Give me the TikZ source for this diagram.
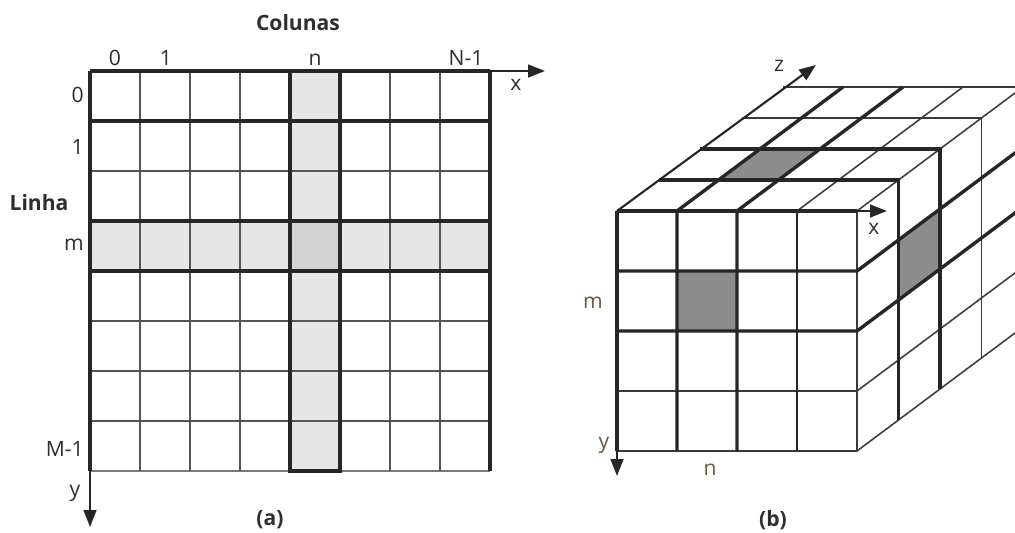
\documentclass[tikz,border=0pt]{standalone}
\usepackage{fontspec}
\setmainfont{Open Sans}
\usetikzlibrary{arrows.meta}

\definecolor{traco}{HTML}{262626}
\definecolor{tracomedio}{HTML}{555555}
\definecolor{tracofino}{HTML}{7A7A7A}
\definecolor{tracocubo}{HTML}{3A3A3A}
\definecolor{cinzaclaro}{HTML}{E6E6E6}
\definecolor{cinzamedio}{HTML}{D2D2D2}
\definecolor{cinzaescuro}{HTML}{8C8C8C}
\definecolor{texto}{HTML}{2E2E2E}
\definecolor{textob}{HTML}{6B5A3A}

\begin{document}
\begin{tikzpicture}[x=0.025cm, y=-0.025cm, font=\fontsize{15}{18}\selectfont,
  grossa/.style={line width=2.4pt, draw=traco},
  media/.style={line width=1.6pt, draw=tracomedio},
  fina/.style={line width=1.1pt, draw=tracofino},
  finacubo/.style={line width=1.1pt, draw=tracocubo},
  eixo/.style={line width=1.8pt, draw=traco, -{Triangle[length=12pt,width=9pt]}},
  rotulo/.style={text=texto, inner sep=0pt},
  titulo/.style={rotulo, font=\fontsize{15}{18}\selectfont\bfseries}]

  \useasboundingbox (0,0) rectangle (1015,533);

  % --- (a) matriz 2D: 8 x 8 celulas de 50 ---
  \fill[cinzaclaro] (290,71) rectangle (340,471);   % coluna n
  \fill[cinzaclaro] (90,221) rectangle (490,271);   % linha m
  \fill[cinzamedio] (290,221) rectangle (340,271);  % elemento (m,n)

  % linhas finas da grade
  \draw[fina] (90,471) -- (490,471);
  \foreach \i in {1,2,3,6,7}
    \draw[media] ({90+50*\i},71) -- ({90+50*\i},471);
  \foreach \j in {2,5,6,7}
    \draw[media] (90,{71+50*\j}) -- (490,{71+50*\j});

  % linhas grossas
  \foreach \j in {1,3,4}
    \draw[grossa] (90,{71+50*\j}) -- (490,{71+50*\j});
  \draw[grossa] (290,71) rectangle (340,471);
  \draw[grossa] (490,71) -- (490,471);
  \draw[grossa] (90,71) -- (490,71);
  \draw[grossa] (90,71) -- (90,471);

  % eixos
  \coordinate (origemA) at (90,71);
  \coordinate (pontaxA) at (545,71);
  \coordinate (pontayA) at (90,527);
  \draw[eixo] (origemA) -- (pontaxA);
  \draw[eixo] (origemA) -- (pontayA);

  % rotulos
  \node[titulo] (colunas) at (298,23) {Colunas};
  \node[titulo] (linha) at (39,203) {Linha};
  \node[rotulo, anchor=base] (col0) at (115,65) {0};
  \node[rotulo, anchor=base] (col1) at (166,65) {1};
  \node[rotulo, anchor=base] (coln) at (315,65) {n};
  \node[rotulo, anchor=base] (colN) at (466,65) {N-1};
  \node[rotulo, anchor=east] (lin0) at (84,95) {0};
  \node[rotulo, anchor=east] (lin1) at (84,147) {1};
  \node[rotulo, anchor=east] (linm) at (84,245) {m};
  \node[rotulo, anchor=east] (linM) at (84,449) {M-1};
  \node[rotulo] (rotxA) at (516,85) {x};
  \node[rotulo] (rotyA) at (75,493) {y};
  \node[titulo] (legA) at (270,520) {(a)};

  % --- (b) cubo 3D: 4 x 4 x 4, frente 60 x 60, profundidade (41.5,-31) ---
  \begin{scope}
    \clip (560,0) rectangle (1015,533);

    % celulas destacadas
    \fill[cinzaescuro] (677,271) rectangle (737,331);                         % frente
    \fill[cinzaescuro] (718.5,180) -- (778.5,180) -- (820,149) -- (760,149) -- cycle; % topo
    \fill[cinzaescuro] (898.5,240) -- (940,209) -- (940,269) -- (898.5,300) -- cycle; % lado

    % linhas finas
    \foreach \i in {3,4}
      \draw[finacubo] ({617+60*\i},211) -- ({617+60*\i+166},87);
    \foreach \k in {3,4}
      \draw[finacubo] ({617+41.5*\k},{211-31*\k}) -- ({857+41.5*\k},{211-31*\k})
        -- ({857+41.5*\k},{451-31*\k});
    \foreach \j in {3,4}
      \draw[finacubo] (617,{211+60*\j}) -- (857,{211+60*\j}) -- (1023,{87+60*\j});
    \draw[finacubo] (857,211) -- (857,451);
    \draw[media, draw=traco] (797,211) -- (797,451);

    % fatia de profundidade (topo e lado)
    \foreach \k in {1,2}
      \draw[grossa] ({617+41.5*\k},{211-31*\k}) -- ({857+41.5*\k},{211-31*\k})
        -- ({857+41.5*\k},{451-31*\k});
    % coluna n
    \foreach \i in {1,2}
      \draw[grossa] ({617+60*\i},451) -- ({617+60*\i},211) -- ({617+60*\i+166},87);
    % linha m
    \foreach \j in {1,2}
      \draw[grossa] (617,{211+60*\j}) -- (857,{211+60*\j}) -- (1023,{87+60*\j});
  \end{scope}

  % eixos
  \coordinate (origemB) at (617,211);
  \coordinate (pontaxB) at (887,211);
  \coordinate (pontayB) at (617,476);
  \coordinate (pontazB) at (816,65);
  \draw[grossa] (origemB) -- (857,211);
  \draw[grossa] (origemB) -- (617,451);
  \draw[eixo] (origemB) -- (pontaxB);
  \draw[eixo] (origemB) -- (pontayB);
  \draw[eixo, line width=1.5pt] (origemB) -- (pontazB);

  % rotulos
  \node[rotulo] (rotzB) at (779,66) {z};
  \node[rotulo] (rotxB) at (874,229) {x};
  \node[rotulo, text=textob] (rotyB) at (604,445) {y};
  \node[rotulo, text=textob] (rotmB) at (593,303) {m};
  \node[rotulo, text=textob] (rotnB) at (710,470) {n};
  \node[titulo] (legB) at (773,520) {(b)};

\end{tikzpicture}
\end{document}
